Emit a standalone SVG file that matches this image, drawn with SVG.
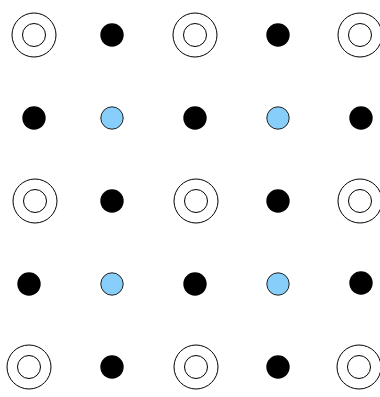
<svg xmlns="http://www.w3.org/2000/svg" width="380" height="397" viewBox="0 0 380 397">
<style>
.ring{fill:none;stroke:#000;stroke-width:1}
.dot{fill:#000}
.blue{fill:#87cefa;stroke:#222;stroke-width:1}
</style>
<defs>
<g id="dbl"><circle class="ring" r="22"/><circle class="ring" r="11.5"/></g>
</defs>
<rect width="380" height="397" fill="#fff"/>
<g id="r1c1" transform="translate(34,35)"><use href="#dbl"/></g>
<g id="r1c2"><circle class="dot" cx="112" cy="35" r="11.7"/></g>
<g id="r1c3" transform="translate(195,35)"><use href="#dbl"/></g>
<g id="r1c4"><circle class="dot" cx="278" cy="35" r="11.7"/></g>
<g id="r1c5" transform="translate(360,35)"><use href="#dbl"/></g>

<g id="r2c1"><circle class="dot" cx="34" cy="118" r="11.7"/></g>
<g id="r2c2"><circle class="blue" cx="112" cy="118" r="11.2"/></g>
<g id="r2c3"><circle class="dot" cx="195" cy="118" r="11.7"/></g>
<g id="r2c4"><circle class="blue" cx="278" cy="118" r="11.2"/></g>
<g id="r2c5"><circle class="dot" cx="361" cy="118" r="11.7"/></g>

<g id="r3c1" transform="translate(35,201)"><use href="#dbl"/></g>
<g id="r3c2"><circle class="dot" cx="112" cy="201" r="11.7"/></g>
<g id="r3c3" transform="translate(196,201)"><use href="#dbl"/></g>
<g id="r3c4"><circle class="dot" cx="278" cy="201" r="11.7"/></g>
<g id="r3c5" transform="translate(360,201)"><use href="#dbl"/></g>

<g id="r4c1"><circle class="dot" cx="29" cy="284" r="11.7"/></g>
<g id="r4c2"><circle class="blue" cx="112" cy="284" r="11.2"/></g>
<g id="r4c3"><circle class="dot" cx="195" cy="284" r="11.7"/></g>
<g id="r4c4"><circle class="blue" cx="278" cy="284" r="11.2"/></g>
<g id="r4c5"><circle class="dot" cx="361" cy="283" r="11.7"/></g>

<g id="r5c1" transform="translate(29,367)"><use href="#dbl"/></g>
<g id="r5c2"><circle class="dot" cx="112" cy="367" r="11.7"/></g>
<g id="r5c3" transform="translate(196,367)"><use href="#dbl"/></g>
<g id="r5c4"><circle class="dot" cx="278" cy="367" r="11.7"/></g>
<g id="r5c5" transform="translate(359,367)"><use href="#dbl"/></g>
<g id="connectors"/>
</svg>
